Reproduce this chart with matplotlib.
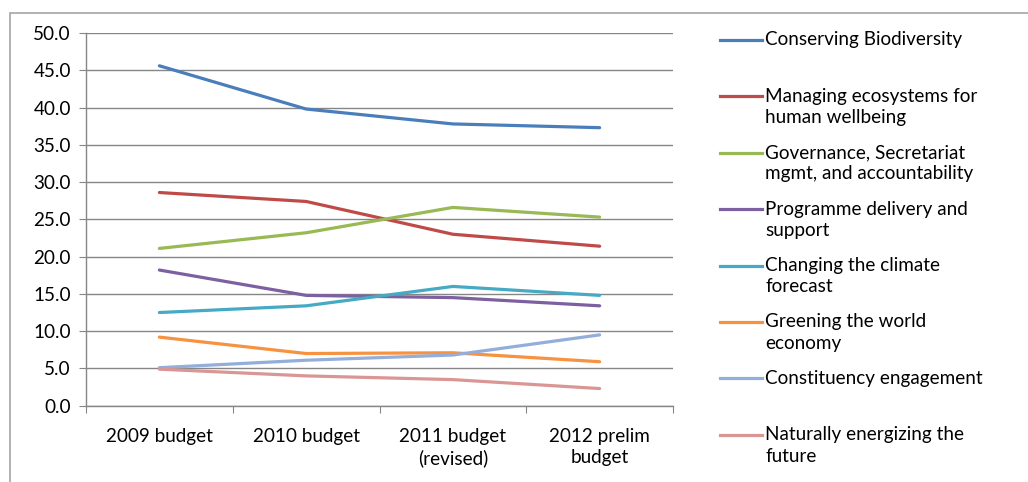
import matplotlib.pyplot as plt
from matplotlib.lines import Line2D
from matplotlib.patches import Rectangle

plt.rcParams['font.family'] = ['Lato', 'DejaVu Sans']

categories = ['2009 budget', '2010 budget', '2011 budget\n(revised)', '2012 prelim\nbudget']
series_names = ['Conserving Biodiversity',
                'Managing ecosystems for\nhuman wellbeing',
                'Governance, Secretariat\nmgmt, and accountability',
                'Programme delivery and\nsupport',
                'Changing the climate\nforecast',
                'Greening the world\neconomy',
                'Constituency engagement',
                'Naturally energizing the\nfuture']
conserving = [45.6, 39.8, 37.8, 37.3]
managing = [28.6, 27.4, 23.0, 21.4]
governance = [21.1, 23.2, 26.6, 25.3]
programme = [18.2, 14.8, 14.5, 13.4]
climate = [12.5, 13.4, 16.0, 14.8]
greening = [9.2, 7.0, 7.1, 5.9]
constituency = [5.1, 6.1, 6.8, 9.5]
energizing = [4.9, 4.0, 3.5, 2.3]
values = [conserving, managing, governance, programme, climate, greening, constituency, energizing]
colors = ['#4A7EBB', '#BE4B48', '#98B954', '#7D60A0', '#46AAC5', '#F69240', '#93AEDA', '#D99694']

W, H = 1028, 482
FS = 13.6
fig = plt.figure(figsize=(W / 100, H / 100), dpi=100)

# outer chart border (cropped at right/bottom)
fig.patches.append(Rectangle((10 / W, -0.1), 1.2, (H - 13) / H + 0.1, transform=fig.transFigure,
                             fill=False, edgecolor='#A6A6A6', linewidth=1.2))

ax = fig.add_axes([86 / W, (H - 405.7) / H, 587 / W, 372.7 / H])
x = list(range(len(categories)))
for vals, c in zip(values, colors):
    ax.plot(x, vals, color=c, linewidth=2.3, solid_capstyle='round')

ax.set_xlim(-0.5, len(categories) - 0.5)
ax.set_ylim(0, 50)
ax.set_yticks([i * 5 for i in range(11)])
ax.set_yticklabels(['%.1f' % (i * 5) for i in range(11)])
ax.set_xticks([i - 0.5 for i in range(len(categories) + 1)])
ax.set_xticklabels([])
ax.set_xticks(x, minor=True)
ax.set_xticklabels(categories, minor=True)
for lbl in ax.get_xticklabels(minor=True):
    lbl.set_linespacing(1.3)
ax.tick_params(axis='x', which='minor', length=0, pad=16, labelsize=FS, colors='black')
ax.tick_params(axis='x', which='major', length=5, color='#868686', direction='out')
ax.tick_params(axis='y', length=5, color='#868686', labelsize=FS, pad=6)
ax.yaxis.grid(True, color='#868686', linewidth=1)
ax.set_axisbelow(True)
for s in ['top', 'right']:
    ax.spines[s].set_visible(False)
for s in ['left', 'bottom']:
    ax.spines[s].set_color('#868686')
    ax.spines[s].set_linewidth(1)

# legend drawn by hand so handles align with the first text line
for i, (name, c) in enumerate(zip(series_names, colors)):
    yc = 40 + i * 56.4
    fy = (H - yc) / H
    fig.add_artist(Line2D([720 / W, 762 / W], [fy, fy], color=c, linewidth=2.3, transform=fig.transFigure))
    fig.text(765 / W, (H - yc + 8.5) / H, name, fontsize=FS, va='top', ha='left', linespacing=1.3)

fig.savefig('out.png', dpi=100)
